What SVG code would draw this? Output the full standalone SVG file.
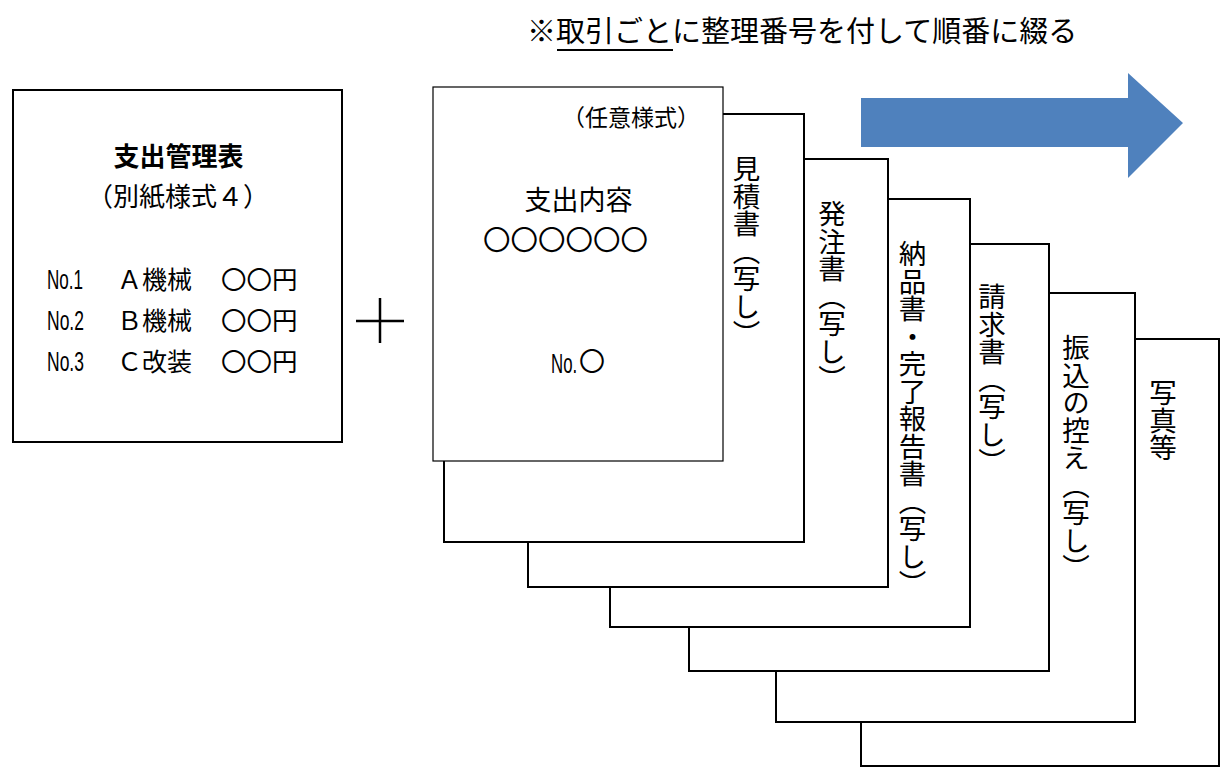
<svg xmlns="http://www.w3.org/2000/svg" width="1221" height="769" viewBox="0 0 1221 769">
<style>
.jp{font-family:"Noto Sans CJK JP","Noto Sans CJK SC",sans-serif;fill:#000}
.lat{font-family:"Liberation Sans",Arial,sans-serif;font-size:28px;fill:#000}
.page{fill:#fff;stroke:#000;stroke-width:2}
.vt{font-family:"Noto Sans CJK JP",sans-serif;font-size:27.5px;writing-mode:vertical-rl;fill:#000}
</style>
<rect width="1221" height="769" fill="#fff"/>

<g id="title">
<text class="jp" x="527" y="42" font-size="29">※取引ごとに整理番号を付して順番に綴る</text>
<line x1="557" y1="50" x2="673" y2="50" stroke="#000" stroke-width="2"/>
</g>

<g id="arrow">
<polygon points="861,98 1128,98 1128,73 1183,123 1128,178 1128,147 861,147" fill="#4F81BD"/>
</g>

<g id="summary">
<rect x="13" y="90" width="329" height="352" fill="#fff" stroke="#000" stroke-width="2"/>
<text class="jp" x="178.5" y="166" font-size="26" font-weight="bold" text-anchor="middle">支出管理表</text>
<text class="jp" x="178" y="206" font-size="26" text-anchor="middle">（別紙様式４）</text>
<text class="lat" transform="translate(47,289) scale(0.61,1)">No.1</text>
<text class="jp" x="117" y="289" font-size="25">Ａ機械</text>
<text class="jp" x="221" y="289" font-size="25.5">〇〇円</text>
<text class="lat" transform="translate(47,330) scale(0.625,1)">No.2</text>
<text class="jp" x="117" y="330" font-size="25">Ｂ機械</text>
<text class="jp" x="221" y="330" font-size="25.5">〇〇円</text>
<text class="lat" transform="translate(47,371) scale(0.625,1)">No.3</text>
<text class="jp" x="117" y="371" font-size="25">Ｃ改装</text>
<text class="jp" x="221" y="371" font-size="25.5">〇〇円</text>
</g>

<g id="plus">
<line x1="356" y1="321" x2="404" y2="321" stroke="#000" stroke-width="2.5"/>
<line x1="380" y1="298" x2="380" y2="343" stroke="#000" stroke-width="2.5"/>
</g>

<g id="page6">
<rect class="page" x="861" y="339" width="358" height="427"/>
<text class="vt" x="1163" y="379">写真等</text>
</g>
<g id="page5">
<rect class="page" x="776" y="293" width="359" height="429"/>
<text class="vt" x="1076" y="334">振込の控え（写し）</text>
</g>
<g id="page4">
<rect class="page" x="689" y="244" width="360" height="427"/>
<text class="vt" x="992" y="283">請求書（写し）</text>
</g>
<g id="page3">
<rect class="page" x="610" y="199" width="360" height="428"/>
<text class="vt" x="912.5" y="240">納品書・完了報告書（写し）</text>
</g>
<g id="page2">
<rect class="page" x="528" y="159" width="360" height="428"/>
<text class="vt" x="832" y="200">発注書（写し）</text>
</g>
<g id="page1">
<rect class="page" x="444" y="114" width="360" height="428"/>
<text class="vt" x="746.5" y="155">見積書（写し）</text>
</g>

<g id="front">
<rect x="433" y="87" width="290" height="374" fill="#fff" stroke="#000" stroke-width="1.2"/>
<text class="jp" x="631" y="126" font-size="23" text-anchor="middle">（任意様式）</text>
<text class="jp" x="578.5" y="210" font-size="27" text-anchor="middle">支出内容</text>
<text class="jp" x="565.5" y="250" font-size="27.5" text-anchor="middle">〇〇〇〇〇〇</text>
<text class="lat" transform="translate(551,373) scale(0.6,1)">No.</text>
<text class="jp" x="579" y="371" font-size="26">〇</text>
</g>
</svg>
